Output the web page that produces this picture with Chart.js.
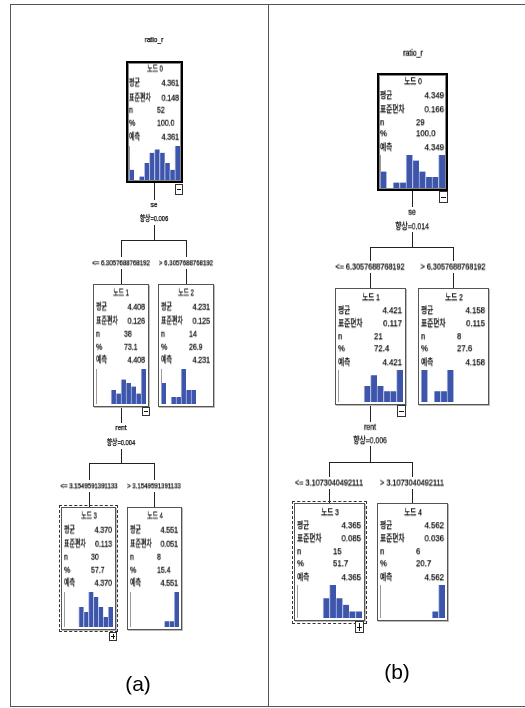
<!DOCTYPE html>
<html>
<head>
<meta charset="utf-8">
<script src="https://cdn.jsdelivr.net/npm/chart.js@4.4.1/dist/chart.umd.min.js"></script>
<style>
body{margin:0;background:#fff;width:525px;height:708px;position:relative;overflow:hidden;color:#000}
.a{position:absolute}
.t{position:absolute;white-space:nowrap;line-height:1;will-change:transform;color:#000;-webkit-text-stroke:0.25px #000}
</style>
</head>
<body>
<script>
// 히스토그램 구간 (10개)
const binLabels = ['1','2','3','4','5','6','7','8','9','10'];
const statNames = ['평균', '표준편차', 'n', '%', '예측'];

// (a) 트리
const titlesA = ['노드 0', '노드 1', '노드 2', '노드 3', '노드 4'];
const meanA = ['4.361', '4.408', '4.231', '4.370', '4.551'];
const sdA = ['0.148', '0.126', '0.125', '0.113', '0.051'];
const nA = ['52', '38', '14', '30', '8'];
const pctA = ['100.0', '73.1', '26.9', '57.7', '15.4'];
const histA0 = [3, 0, 1, 5, 8, 9, 8, 5, 3, 10];
const histA1 = [0, 0, 0, 4, 3, 7, 6, 5, 3, 10];
const histA2 = [3, 0, 1, 1, 5, 2, 2, 0, 0, 0];
const histA3 = [0, 0, 0, 4, 3, 7, 6, 4, 2, 4];
const histA4 = [0, 0, 0, 0, 0, 0, 0, 1, 1, 6];
const splitA1 = ['se', '향상=0.006', '<= 6.3057688768192', '> 6.3057688768192'];
const splitA2 = ['rent', '향상=0.004', '<= 3.1549591391133', '> 3.1549591391133'];

// (b) 트리
const titlesB = ['노드 0', '노드 1', '노드 2', '노드 3', '노드 4'];
const meanB = ['4.349', '4.421', '4.158', '4.365', '4.562'];
const sdB = ['0.166', '0.117', '0.115', '0.085', '0.036'];
const nB = ['29', '21', '8', '15', '6'];
const pctB = ['100.0', '72.4', '27.6', '51.7', '20.7'];
const histB0 = [3, 0, 1, 1, 6, 5, 3, 2, 2, 6];
const histB1 = [0, 0, 0, 0, 3, 5, 3, 2, 2, 6];
const histB2 = [3, 0, 1, 1, 3, 0, 0, 0, 0, 0];
const histB3 = [0, 0, 0, 0, 3, 5, 3, 2, 1, 1];
const histB4 = [0, 0, 0, 0, 0, 0, 0, 0, 1, 5];
const splitB1 = ['se', '향상=0.014', '<= 6.3057688768192', '> 6.3057688768192'];
const splitB2 = ['rent', '향상=0.006', '<= 3.1073040492111', '> 3.1073040492111'];

// 폰트 확인 (좁은 글꼴이 없으면 가로로 줄임)
const mc = document.createElement('canvas').getContext('2d');
mc.font = '20px "Liberation Sans Narrow", monospace';
const w1 = mc.measureText('0123456789 ratio').width;
mc.font = '20px monospace';
const w2 = mc.measureText('0123456789 ratio').width;
const hasNarrow = Math.abs(w1 - w2) > 0.5;
const LAT = hasNarrow ? '"Liberation Sans Narrow"' : '"Liberation Sans"';
const NX = hasNarrow ? 1 : 0.82;
const FONT = LAT + ', "Noto Sans CJK KR", sans-serif';

function box(css) {
    const d = document.createElement('div');
    d.className = 'a';
    Object.assign(d.style, css);
    document.body.appendChild(d);
    return d;
}
function txt(s, x, y, fs, align, sx) {
    const d = document.createElement('div');
    d.className = 't';
    d.textContent = s;
    d.style.fontFamily = FONT;
    d.style.fontSize = fs + 'px';
    d.style.left = x + 'px';
    d.style.top = y + 'px';
    let tx = '0';
    let o = '0 50%';
    if (align == 'center') { tx = '-50%'; o = '50% 50%'; }
    if (align == 'right') { tx = '-100%'; o = '100% 50%'; }
    d.style.transformOrigin = o;
    d.style.transform = 'translate(' + tx + ',-50%) scaleX(' + sx + ')';
    document.body.appendChild(d);
    return d;
}
function hline(x1, x2, y, c) {
    box({left: x1 + 'px', top: y + 'px', width: (x2 - x1) + 'px', height: '1px', background: c || '#222'});
}
function vline(x, y1, y2, c) {
    box({left: x + 'px', top: y1 + 'px', width: '1px', height: (y2 - y1) + 'px', background: c || '#222'});
}
function toggle(x, y, w, h, plus) {
    box({left: x + 'px', top: y + 'px', width: w + 'px', height: h + 'px', border: '1px solid #333', boxSizing: 'border-box', background: '#fff'});
    const cy = y + Math.floor(h / 2);
    hline(x + 2, x + w - 2, cy, '#111');
    if (plus) vline(x + Math.floor(w / 2), y + 2, y + h - 2, '#111');
}

function histo(data, x, y, w, h) {
    const c = document.createElement('canvas');
    c.width = w; c.height = h;
    c.style.position = 'absolute';
    c.style.left = x + 'px';
    c.style.top = y + 'px';
    document.body.appendChild(c);
    new Chart(c, {
        type: 'bar',
        data: {
            labels: binLabels,
            datasets: [{
                data: data,
                backgroundColor: '#3d55ab',
                borderColor: '#b9c3e8',
                borderWidth: {left: 1, right: 0, top: 0, bottom: 0},
                borderSkipped: false,
                barPercentage: 1,
                categoryPercentage: 1
            }]
        },
        options: {
            responsive: false,
            animation: false,
            events: [],
            layout: {padding: {top: 0, right: 0, bottom: 0, left: 0}},
            plugins: {legend: {display: false}, tooltip: {enabled: false}},
            scales: {
                x: {grid: {display: false, drawTicks: false}, ticks: {display: false}, border: {color: '#333'}},
                y: {min: 0, max: Math.max(...data), grid: {display: false, drawTicks: false}, ticks: {display: false}, border: {color: '#9a9a9a'}}
            }
        }
    });
}

// 노드 그리기
function node(r, k, T, st, hist) {
    const [x, y, w, h] = r;
    box({left: x + 'px', top: y + 'px', width: w + 'px', height: h + 'px', boxSizing: 'border-box',
        border: k == 0 ? '2px solid #000' : '1px solid #555',
        boxShadow: k == 0 ? 'inset 0 0 0 1px #888' : '1px 1px 0 #bbb', background: '#fff'});
    const ry = k == 0 ? T.rootRows : T.rows;
    txt(st[0], x + w / 2, y + ry[0], T.titleFs, 'center', T.korSx);
    const vals = [st[1], st[2], st[3], st[4], st[1]];
    for (let i = 0; i < 5; i++) {
        const kor = i == 0 || i == 1 || i == 4;
        txt(statNames[i], x + 3, y + ry[i + 1], kor ? T.korFs : T.valFs, 'left', kor ? T.korSx : NX);
        if (i == 2 || i == 3) txt(vals[i], x + Math.round(w * 0.55), y + ry[i + 1], T.valFs, 'left', NX);
        else txt(vals[i], x + w - 4, y + ry[i + 1], T.valFs, 'right', NX);
    }
    histo(hist, x + 3, y + T.histTop, w - 6, h - T.histTop - T.histBot);
}

function split(s, S, T) {
    vline(S.px, S.y0, S.yVar - 5);
    txt(s[0], S.px, S.yVar, T.varFs, 'center', NX);
    txt(s[1], S.px, S.yGain, T.gainFs, 'center', T.gainSx);
    vline(S.px, S.yGain + 6, S.yBar);
    hline(S.lx, S.rx + 1, S.yBar);
    vline(S.lx, S.yBar, S.yCond - 6);
    vline(S.rx, S.yBar, S.yCond - 6);
    txt(s[2], S.lx, S.yCond, T.condFs, 'center', NX);
    txt(s[3], S.rx, S.yCond, T.condFs, 'center', NX);
    vline(S.lx, S.yCond + 6, S.yChild);
    vline(S.rx, S.yCond + 6, S.yChild);
}

// 바깥 표 테두리
hline(10, 525, 4, '#555');
hline(10, 525, 706, '#555');
vline(10, 4, 707, '#555');
vline(268, 4, 707, '#555');

// ---- (a) ----
const TA = {rows: [9, 23, 37, 50, 63, 76], rootRows: [8, 22, 37, 49, 62, 76], histTop: 85, histBot: 3,
    titleFs: 9, korFs: 9, korSx: 0.66, valFs: 8.5, varFs: 8, gainFs: 8, gainSx: 0.88 * NX, condFs: 7.4};
const rectA = [[126, 61, 57, 122], [93, 284, 56, 123], [158, 284, 56, 123], [61, 507, 55, 123], [127, 507, 55, 123]];
const histsA = [histA0, histA1, histA2, histA3, histA4];
txt('ratio_r', 154, 40, 8, 'center', NX);
split(splitA1, {px: 154, y0: 183, yVar: 205, yGain: 219, yBar: 240, yCond: 263, yChild: 284, lx: 121, rx: 186}, TA);
split(splitA2, {px: 121, y0: 407, yVar: 428, yGain: 443, yBar: 463, yCond: 486, yChild: 507, lx: 89, rx: 154}, TA);
box({left: '59px', top: '505px', width: '59px', height: '127px', border: '1px dashed #333', boxSizing: 'border-box'});
for (let k = 0; k < 5; k++) node(rectA[k], k, TA, [titlesA[k], meanA[k], sdA[k], nA[k], pctA[k]], histsA[k]);
toggle(175, 184, 8, 11, false);
toggle(142, 407, 8, 9, false);
toggle(109, 632, 8, 9, true);

// ---- (b) ----
const TB = {rows: [9, 22, 35, 48, 60, 74], rootRows: [8, 22, 36, 49, 60, 74], histTop: 82, histBot: 3,
    titleFs: 9.5, korFs: 9.5, korSx: 0.7, valFs: 9.5, varFs: 8.5, gainFs: 9.5, gainSx: 0.88 * NX, condFs: 8.9};
const rectB = [[377, 73, 71, 118], [335, 288, 71, 117], [418, 288, 71, 117], [294, 503, 71, 118], [377, 503, 71, 118]];
const histsB = [histB0, histB1, histB2, histB3, histB4];
txt('ratio_r', 413, 53, 8.5, 'center', NX);
split(splitB1, {px: 412, y0: 191, yVar: 212, yGain: 226, yBar: 247, yCond: 267, yChild: 288, lx: 370, rx: 453}, TB);
split(splitB2, {px: 370, y0: 405, yVar: 427, yGain: 440, yBar: 462, yCond: 483, yChild: 503, lx: 329, rx: 412}, TB);
box({left: '292px', top: '501px', width: '75px', height: '123px', border: '1px dashed #333', boxSizing: 'border-box'});
for (let k = 0; k < 5; k++) node(rectB[k], k, TB, [titlesB[k], meanB[k], sdB[k], nB[k], pctB[k]], histsB[k]);
toggle(439, 191, 9, 12, false);
toggle(397, 405, 9, 12, false);
toggle(355, 621, 9, 12, true);

// 캡션
txt('(a)', 138, 683, 21, 'center', 1).style.webkitTextStroke = '0';
txt('(b)', 397, 671, 21, 'center', 1).style.webkitTextStroke = '0';
</script>
</body>
</html>
